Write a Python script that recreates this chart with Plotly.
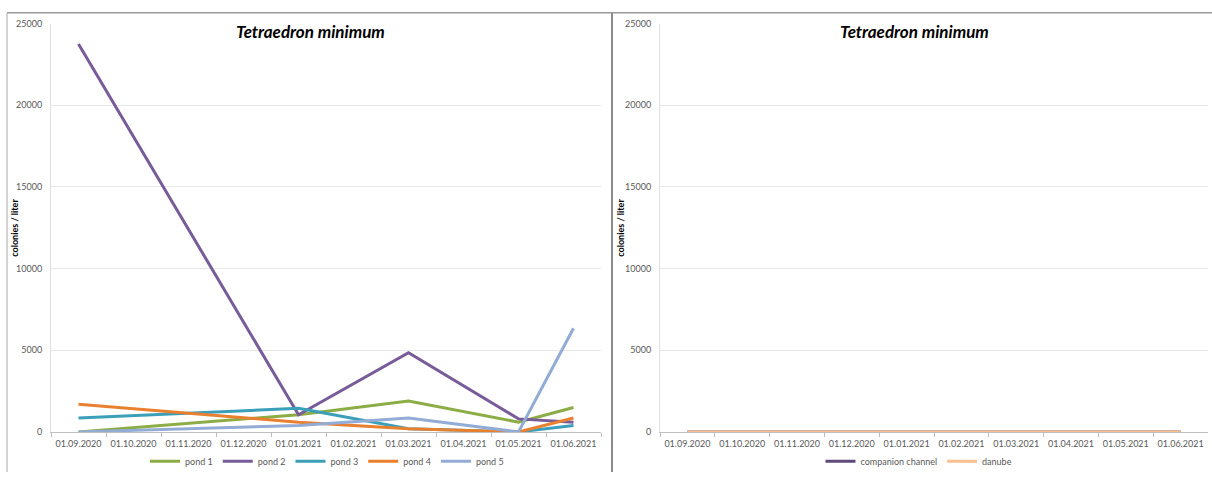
import plotly.graph_objects as go

# Sampling months shown on the category axis
months = ["01.09.2020", "01.10.2020", "01.11.2020", "01.12.2020", "01.01.2021",
          "01.02.2021", "01.03.2021", "01.04.2021", "01.05.2021", "01.06.2021"]

# Tetraedron minimum, colonies per liter (None = not sampled that month)
pond_1 = [0, None, None, None, 1050, None, 1900, None, 600, 1500]
pond_2 = [23750, None, None, None, 1050, None, 4850, None, 800, 600]
pond_3 = [850, None, None, None, 1450, None, 200, None, 0, 400]
pond_4 = [1700, None, None, None, 600, None, 200, None, 0, 850]
pond_5 = [0, None, None, None, 400, None, 850, None, 0, 6350]

companion_channel = [0, 0, 0, 0, 0, 0, 0, 0, 0, 0]
danube = [0, 0, 0, 0, 0, 0, 0, 0, 0, 0]

y_ticks = [0, 5000, 10000, 15000, 20000, 25000]

W, H = 1212, 477
FONT = "Lato"
TICK_COLOR = "#595959"

left_series = [
    ("pond 1", pond_1, "#8cac45"),
    ("pond 2", pond_2, "#775c99"),
    ("pond 3", pond_3, "#3b9fb9"),
    ("pond 4", pond_4, "#e8802f"),
    ("pond 5", pond_5, "#93acd6"),
]
right_series = [
    ("companion channel", companion_channel, "#5f4a7b"),
    ("danube", danube, "#fbbf8e"),
]

fig = go.Figure()
for name, vals, color in left_series:
    fig.add_trace(go.Scatter(
        x=months, y=vals, name=name, mode="lines", connectgaps=True,
        line=dict(color=color, width=3), xaxis="x", yaxis="y", legend="legend"))
for name, vals, color in right_series:
    fig.add_trace(go.Scatter(
        x=months, y=vals, name=name, mode="lines", connectgaps=True,
        line=dict(color=color, width=3), xaxis="x2", yaxis="y2", legend="legend2"))

def px_x(p):
    return p / W

def px_y(p):
    return 1 - p / H

y_dom = [px_y(436), px_y(18)]

xaxis_style = dict(
    type="category", categoryorder="array", categoryarray=months,
    range=[-0.5, 9.5], tickson="boundaries", ticks="outside", ticklen=4,
    tickcolor="#bfbfbf", showline=True, linecolor="#bfbfbf", linewidth=1,
    showgrid=False, zeroline=False, tickangle=0, ticklabelstandoff=3,
    tickfont=dict(family=FONT, size=9, color=TICK_COLOR), fixedrange=True,
)
yaxis_style = dict(
    range=[0, 25000], tickvals=y_ticks, ticktext=[str(v) for v in y_ticks],
    showgrid=True, gridcolor="#e8e8e8", gridwidth=1, zeroline=False,
    showline=True, linecolor="#e0e0e0", ticks="", ticklabelstandoff=6,
    tickfont=dict(family=FONT, size=9, color=TICK_COLOR), fixedrange=True,
)

legend_style = dict(
    orientation="h", xanchor="center", yanchor="middle", y=px_y(466),
    font=dict(family=FONT, size=9, color=TICK_COLOR),
    bgcolor="rgba(0,0,0,0)", itemwidth=30, tracegroupgap=0,
)

fig.update_layout(
    width=W, height=H, margin=dict(l=0, r=0, t=0, b=0),
    paper_bgcolor="white", plot_bgcolor="white", showlegend=True,
    xaxis=dict(domain=[px_x(51), px_x(601)], anchor="y", **xaxis_style),
    yaxis=dict(domain=y_dom, anchor="x", **yaxis_style),
    xaxis2=dict(domain=[px_x(660), px_x(1208)], anchor="y2", **xaxis_style),
    yaxis2=dict(domain=y_dom, anchor="x2", **yaxis_style),
    legend=dict(x=px_x(327), **legend_style),
    legend2=dict(x=px_x(919), **legend_style),
)

# Chart titles and y-axis titles
for cx in (310, 914):
    fig.add_annotation(
        text="<b><i>Tetraedron minimum</i></b>", x=px_x(cx), y=px_y(26),
        xref="paper", yref="paper", showarrow=False, xanchor="center", yanchor="middle",
        font=dict(family=FONT, size=17, color="black"))
for ax in (15, 621):
    fig.add_annotation(
        text="<b>colonies / liter</b>", x=px_x(ax), y=px_y(227), textangle=-90,
        xref="paper", yref="paper", showarrow=False, xanchor="center", yanchor="middle",
        font=dict(family=FONT, size=9, color="black"))

# Frame lines around the two chart panels
frame = [
    dict(x0=7, y0=7, x1=W, y1=7, color="#9a9a9a", width=1.5),
    dict(x0=7, y0=7, x1=7, y1=H, color="#a8a8a8", width=1),
    dict(x0=612, y0=7, x1=612, y1=H, color="#8a8a8a", width=2),
]
for f in frame:
    fig.add_shape(type="line", xref="paper", yref="paper",
                  x0=px_x(f["x0"]), x1=px_x(f["x1"]), y0=px_y(f["y0"]), y1=px_y(f["y1"]),
                  line=dict(color=f["color"], width=f["width"]))

fig.write_html("out.html")
